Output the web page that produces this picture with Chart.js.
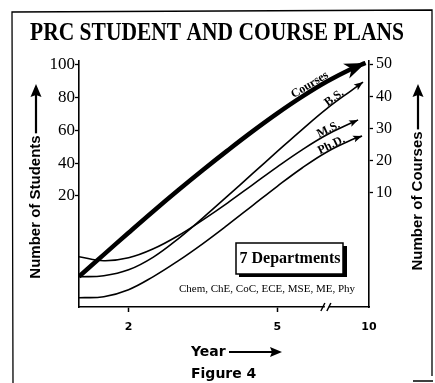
<!DOCTYPE html>
<html>
<head>
<meta charset="utf-8">
<script src="https://cdn.jsdelivr.net/npm/chart.js@4"></script>
<style>
  html, body { margin: 0; padding: 0; background: #fff; }
</style>
</head>
<body>
<canvas id="plans" width="435" height="383"></canvas>
<script>
// year positions along the axis (axis is broken between 5 and 10)
const years = [1, 1.5, 2, 2.5, 3, 3.5, 4, 4.5, 5, 5.5, 6, 6.5];
const xTickPos = [2, 5, 6.85];
const xTickLabels = ['2', '5', '10'];

const studentTicks = [20, 40, 60, 80, 100];
const courseTicks = [10, 20, 30, 40, 50];

// number of courses (right axis)
const courses = [-16.0, -9.2, -2.4, 4.3, 10.8, 17.1, 23.2, 29.1, 34.7, 39.9, 44.6, 48.6];
const coursesEnd = [6.78, 50.4];

// number of students (left axis)
const bs = [-29.5, -28.9, -25.3, -17.5, -6.3, 6.5, 19.9, 33.5, 47.1, 60.5, 73.3, 84.5];
const bsEnd = [6.73, 89.5];
const ms = [-17.3, -19.7, -17.9, -12.4, -4.4, 5.3, 15.7, 26.7, 37.7, 48.1, 57.3, 64.6];
const msEnd = [6.63, 66.4];
const phd = [-42.3, -41.7, -37.4, -29.4, -19.8, -9.2, 2.2, 14.0, 25.8, 37.0, 46.8, 54.2];
const phdEnd = [6.71, 56.6];

const departments = 'Chem, ChE, CoC, ECE, MSE, ME, Phy';

function series(vals, end) {
  const pts = years.map((x, i) => ({ x: x, y: vals[i] }));
  pts.push({ x: end[0], y: end[1] });
  return pts;
}

function arrowHead(ctx, x, y, ang, len, half, notch) {
  ctx.save();
  ctx.translate(x, y);
  ctx.rotate(ang);
  ctx.beginPath();
  ctx.moveTo(0, 0);
  ctx.lineTo(-len, -half);
  ctx.lineTo(-len + notch, 0);
  ctx.lineTo(-len, half);
  ctx.closePath();
  ctx.fill();
  ctx.restore();
}

// arrow tips and the little names riding on each curve
const curveMarks = {
  id: 'curveMarks',
  afterDatasetsDraw(chart) {
    const ctx = chart.ctx;
    ctx.save();
    ctx.fillStyle = '#000';
    chart.data.datasets.forEach((ds, i) => {
      const pts = chart.getDatasetMeta(i).data;
      const tip = pts[pts.length - 1];
      const prev = pts[pts.length - 2];
      const bx = tip.cp1x !== undefined ? tip.cp1x : prev.x;
      const by = tip.cp1y !== undefined ? tip.cp1y : prev.y;
      const ang = Math.atan2(tip.y - by, tip.x - bx);
      if (ds.bigArrow) arrowHead(ctx, tip.x, tip.y, ang, 21, 8, 6);
      else arrowHead(ctx, tip.x, tip.y, ang, 9, 3.5, 2);

      // name label, placed along the curve
      const px = chart.scales.x.getPixelForValue(ds.tagAt);
      let k = 1;
      while (k < pts.length - 1 && pts[k].x < px) k++;
      const a = pts[k - 1], b = pts[k];
      const t = (px - a.x) / (b.x - a.x);
      const py = a.y + t * (b.y - a.y);
      const la = Math.atan2(b.y - a.y, b.x - a.x);
      ctx.save();
      ctx.translate(px, py);
      ctx.rotate(la);
      ctx.font = 'bold ' + ds.tagSize + 'px "Liberation Serif"';
      ctx.textAlign = 'center';
      ctx.textBaseline = 'alphabetic';
      ctx.fillText(ds.tag, 0, -ds.tagLift);
      ctx.restore();
    });
    ctx.restore();
  }
};

// frame, titles, axis arrows, department box, axis break
const decorations = {
  id: 'decorations',
  afterDraw(chart) {
    const ctx = chart.ctx;
    const area = chart.chartArea;
    ctx.save();
    ctx.strokeStyle = '#000';
    ctx.fillStyle = '#000';

    // frame
    ctx.lineWidth = 1.3;
    ctx.beginPath();
    ctx.moveTo(13, 383); ctx.lineTo(12, 12); ctx.lineTo(432, 10); ctx.lineTo(432, 376);
    ctx.moveTo(413, 381); ctx.lineTo(433, 381);
    ctx.stroke();

    // title
    ctx.save();
    ctx.translate(217, 33);
    ctx.scale(1, 1.2);
    ctx.font = 'bold 21.5px "Liberation Serif"';
    ctx.textAlign = 'center';
    ctx.textBaseline = 'middle';
    ctx.fillText('PRC STUDENT AND COURSE PLANS', 0, 0);
    ctx.restore();

    // vertical axis titles with upward arrows
    ctx.font = 'bold 15px "Liberation Sans"';
    ctx.textAlign = 'center';
    ctx.textBaseline = 'middle';
    [[36, 207, 'Number of Students'], [418, 201, 'Number of Courses']].forEach(([x, y, txt]) => {
      ctx.save();
      ctx.translate(x, y);
      ctx.rotate(-Math.PI / 2);
      ctx.fillText(txt, 0, 0);
      const w = ctx.measureText(txt).width;
      ctx.restore();
      ctx.lineWidth = 2.2;
      ctx.beginPath();
      ctx.moveTo(x, y - w / 2 - 2);
      ctx.lineTo(x, 95);
      ctx.stroke();
      arrowHead(ctx, x, 84, -Math.PI / 2, 13, 5.5, 2);
    });

    // x axis title and figure caption
    ctx.font = 'bold 14px "DejaVu Sans"';
    ctx.textAlign = 'left';
    ctx.fillText('Year', 191, 352);
    ctx.fillText('Figure 4', 191, 374);
    ctx.lineWidth = 2.2;
    ctx.beginPath();
    ctx.moveTo(229, 352);
    ctx.lineTo(272, 352);
    ctx.stroke();
    arrowHead(ctx, 282, 352, 0, 12, 5, 2);

    // axis break between 5 and 10
    const bxp = chart.scales.x.getPixelForValue(6.0);
    ctx.fillStyle = '#fff';
    ctx.fillRect(bxp - 2, area.bottom - 3, 4, 6);
    ctx.fillStyle = '#000';
    ctx.lineWidth = 1.5;
    ctx.beginPath();
    ctx.moveTo(bxp - 6, area.bottom + 4); ctx.lineTo(bxp - 2, area.bottom - 4);
    ctx.moveTo(bxp, area.bottom + 4); ctx.lineTo(bxp + 4, area.bottom - 4);
    ctx.stroke();

    // department box with drop shadow
    ctx.fillRect(239, 246, 108, 31);
    ctx.fillStyle = '#fff';
    ctx.fillRect(236, 243, 107, 31);
    ctx.lineWidth = 1.5;
    ctx.strokeRect(236, 243, 107, 31);
    ctx.fillStyle = '#000';
    ctx.font = 'bold 16px "Liberation Serif"';
    ctx.textAlign = 'center';
    ctx.fillText('7 Departments', 290, 259);
    ctx.font = '11px "Liberation Serif"';
    ctx.fillText(departments, 267, 289);
    ctx.restore();
  }
};

const tickFontL = { family: 'Liberation Serif', size: 17 };
const tickFontR = { family: 'Liberation Serif', size: 16 };

new Chart(document.getElementById('plans').getContext('2d'), {
  type: 'line',
  data: {
    datasets: [
      { label: 'Courses', yAxisID: 'yc', data: series(courses, coursesEnd), borderWidth: 4.5,
        tag: 'Courses', tagAt: 5.72, tagSize: 12, tagLift: 3, bigArrow: true },
      { label: 'B.S.', yAxisID: 'ys', data: series(bs, bsEnd), borderWidth: 1.6,
        tag: 'B.S.', tagAt: 6.2, tagSize: 12, tagLift: 1 },
      { label: 'M.S.', yAxisID: 'ys', data: series(ms, msEnd), borderWidth: 1.6,
        tag: 'M.S.', tagAt: 6.07, tagSize: 12, tagLift: 1 },
      { label: 'Ph.D.', yAxisID: 'ys', data: series(phd, phdEnd), borderWidth: 1.6,
        tag: 'Ph.D.', tagAt: 6.13, tagSize: 12, tagLift: 1 }
    ]
  },
  options: {
    responsive: false,
    animation: false,
    layout: { padding: { top: 61, left: 0, right: 0, bottom: 0 } },
    elements: {
      point: { radius: 0, hoverRadius: 0 },
      line: { tension: 0.4, borderColor: '#000', borderCapStyle: 'butt', fill: false }
    },
    plugins: { legend: { display: false }, tooltip: { enabled: false } },
    scales: {
      x: {
        type: 'linear', min: 1, max: 6.85,
        afterBuildTicks: s => { s.ticks = xTickPos.map(v => ({ value: v })); },
        afterFit: s => { s.height = 76; s.paddingLeft = 0; s.paddingRight = 0; },
        border: { color: '#000', width: 1.6 },
        grid: {
          drawOnChartArea: false, tickLength: 5, tickWidth: 1.5,
          tickColor: c => (c.tick && c.tick.value > 6 ? 'rgba(0,0,0,0)' : '#000')
        },
        ticks: {
          autoSkip: false, maxRotation: 0, padding: 9, color: '#000',
          font: { family: 'DejaVu Sans', weight: 'bold', size: 11 },
          callback: v => xTickLabels[xTickPos.indexOf(v)]
        }
      },
      ys: {
        position: 'left', min: -48, max: 102.4,
        afterBuildTicks: s => { s.ticks = studentTicks.map(v => ({ value: v })); },
        afterFit: s => { s.width = 79; s.paddingTop = 0; s.paddingBottom = 0; },
        border: { color: '#000', width: 1.6 },
        grid: { drawOnChartArea: false, tickLength: 4, tickWidth: 1.3, tickColor: '#000' },
        ticks: { padding: 0, color: '#000', font: tickFontL }
      },
      yc: {
        position: 'right', min: -25.5, max: 51,
        afterBuildTicks: s => { s.ticks = courseTicks.map(v => ({ value: v })); },
        afterFit: s => { s.width = 66; s.paddingTop = 0; s.paddingBottom = 0; },
        border: { color: '#000', width: 1.6 },
        grid: { drawOnChartArea: false, tickLength: 4, tickWidth: 1.3, tickColor: '#000' },
        ticks: { padding: 3, color: '#000', font: tickFontR }
      }
    }
  },
  plugins: [curveMarks, decorations]
});
</script>
</body>
</html>
